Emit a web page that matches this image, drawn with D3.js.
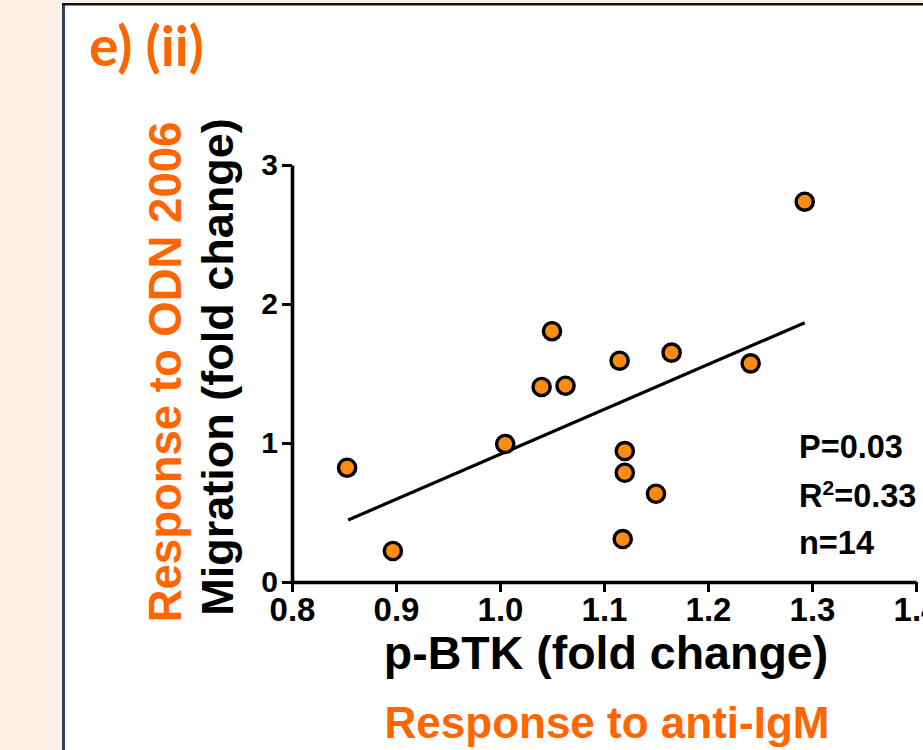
<!DOCTYPE html>
<html>
<head>
<meta charset="utf-8">
<script src="https://cdn.jsdelivr.net/npm/d3@7"></script>
<style>
  html, body { margin: 0; padding: 0; background: #fff; }
  svg { display: block; }
  text { font-family: "Liberation Sans", Arial, sans-serif; font-weight: bold; }
</style>
</head>
<body>
<svg id="chart" width="923" height="750"></svg>
<script>
// ---- data ----
const pbtk      = [0.853, 0.897, 1.005, 1.040, 1.063, 1.050, 1.115, 1.165, 1.241, 1.293, 1.120, 1.120, 1.150, 1.118];
const migration = [0.822, 0.223, 0.993, 1.403, 1.412, 1.804, 1.592, 1.650, 1.573, 2.736, 0.942, 0.786, 0.635, 0.309];
const fitX = [0.854, 1.293];
const fitY = [0.446, 1.865];
const xTicks = [0.8, 0.9, 1.0, 1.1, 1.2, 1.3, 1.4];
const yTicks = [0, 1, 2, 3];
const statLines = ["P=0.03", "R2=0.33", "n=14"];

const svg = d3.select("#chart");
const orange = "#ff6600";

// background / panel frame
svg.append("rect").attr("x", 0).attr("y", 0).attr("width", 923).attr("height", 750).attr("fill", "#fdefe6");
svg.append("rect").attr("x", 64).attr("y", 5).attr("width", 859).attr("height", 745).attr("fill", "#ffffff");
svg.append("line").attr("x1", 63.5).attr("x2", 63.5).attr("y1", 3).attr("y2", 750)
  .attr("stroke", "#2f3e5e").attr("stroke-width", 3);
svg.append("line").attr("x1", 62).attr("x2", 923).attr("y1", 4.2).attr("y2", 4.2)
  .attr("stroke", "#111").attr("stroke-width", 2.4);

// title
svg.append("text").attr("x", 89).attr("y", 66)
  .style("font-family", "Lato, 'Open Sans', sans-serif").style("font-size", "55px")
  .attr("fill", orange).text("e) (ii)");

// scales
const x = d3.scaleLinear().domain([0.8, 1.4]).range([292, 916]);
const y = d3.scaleLinear().domain([0, 3]).range([582, 165]);

// axes
const gx = svg.append("g").attr("transform", `translate(0,${y(0)})`)
  .call(d3.axisBottom(x).tickValues(xTicks).tickSize(10).tickSizeOuter(0).tickPadding(6).tickFormat(d3.format(".1f")));
const gy = svg.append("g").attr("transform", `translate(${x(0.8)},0)`)
  .call(d3.axisLeft(y).tickValues(yTicks).tickSize(10).tickSizeOuter(0).tickPadding(4).tickFormat(d3.format("d")));

[gx, gy].forEach(g => {
  g.select(".domain").attr("stroke", "#000").attr("stroke-width", 3.6);
  g.selectAll(".tick line").attr("stroke", "#000").attr("stroke-width", 3);
  g.selectAll(".tick text").attr("fill", "#000")
    .style("font-family", "'Liberation Sans', Arial, sans-serif").style("font-weight", "bold");
});
gx.selectAll(".tick text").style("font-size", "33px");
gy.selectAll(".tick text").style("font-size", "30px");

// regression line
svg.append("path")
  .datum(fitX.map((d, i) => [d, fitY[i]]))
  .attr("d", d3.line().x(d => x(d[0])).y(d => y(d[1])))
  .attr("stroke", "#000").attr("stroke-width", 3.2).attr("fill", "none");

// points
svg.append("g").selectAll("circle")
  .data(pbtk.map((d, i) => ({ x: d, y: migration[i] })))
  .join("circle")
  .attr("cx", d => x(d.x)).attr("cy", d => y(d.y)).attr("r", 8.6)
  .attr("fill", "#ff8c10").attr("stroke", "#000").attr("stroke-width", 3.4);

// stats text
const statY = [458, 507, 554];
statLines.forEach((s, i) => {
  const t = svg.append("text").attr("x", 799).attr("y", statY[i]).style("font-size", "32.5px").attr("fill", "#000");
  if (s.startsWith("R2")) {
    t.append("tspan").text("R");
    t.append("tspan").attr("dy", -12).style("font-size", "21px").text("2");
    t.append("tspan").attr("dy", 12).text(s.slice(2));
  } else {
    t.text(s);
  }
});

// axis titles
svg.append("text").attr("transform", "translate(233,367) rotate(-90)").attr("text-anchor", "middle")
  .style("font-size", "45px").attr("fill", "#000").text("Migration (fold change)");
svg.append("text").attr("transform", "translate(181,372) rotate(-90)").attr("text-anchor", "middle")
  .style("font-size", "45.5px").attr("fill", orange).text("Response to ODN 2006");
svg.append("text").attr("x", 606).attr("y", 669).attr("text-anchor", "middle")
  .style("font-size", "46.5px").attr("fill", "#000").text("p-BTK (fold change)");
svg.append("text").attr("x", 607).attr("y", 738).attr("text-anchor", "middle")
  .style("font-size", "44px").attr("fill", orange).text("Response to anti-IgM");
</script>
</body>
</html>
